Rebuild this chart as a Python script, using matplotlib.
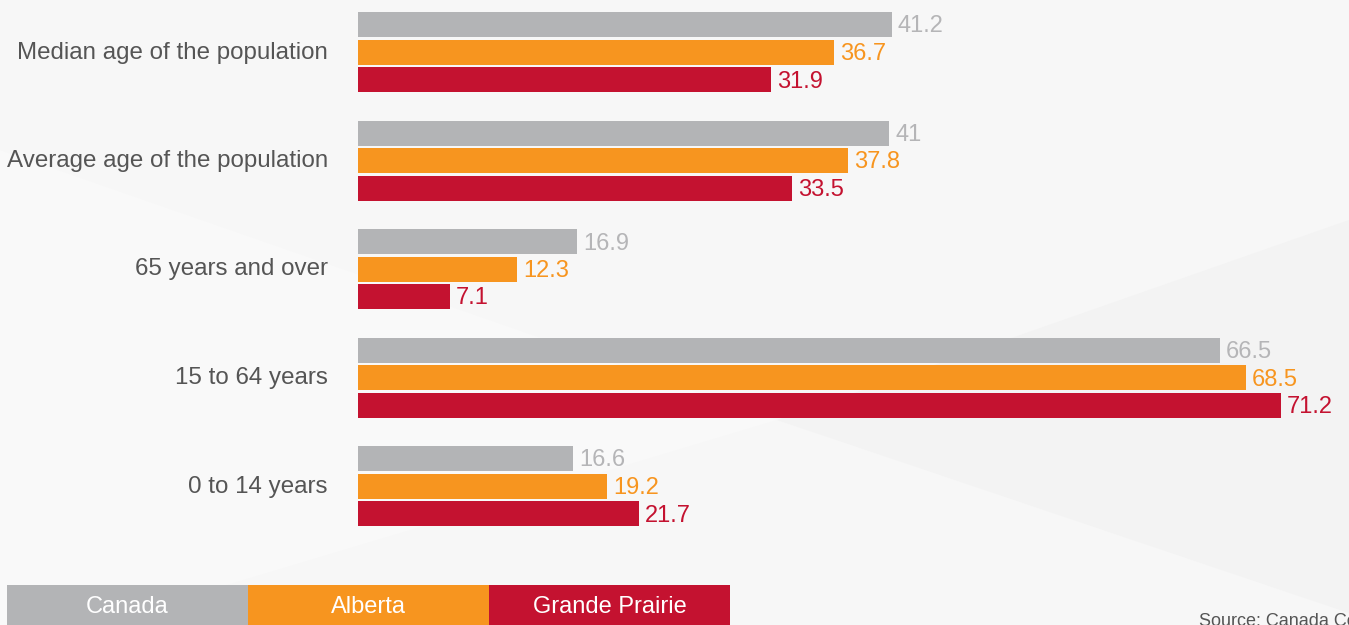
import matplotlib
matplotlib.use("Agg")
import matplotlib.pyplot as plt
from matplotlib.patches import Polygon, Rectangle

plt.rcParams["font.family"] = ["Liberation Sans", "DejaVu Sans"]

# data
categories = [
    "Median age of the population",
    "Average age of the population",
    "65 years and over",
    "15 to 64 years",
    "0 to 14 years",
]
series_names = ["Canada", "Alberta", "Grande Prairie"]
canada = [41.2, 41, 16.9, 66.5, 16.6]
alberta = [36.7, 37.8, 12.3, 68.5, 19.2]
grande_prairie = [31.9, 33.5, 7.1, 71.2, 21.7]

bar_colors = ["#b3b4b6", "#f7951f", "#c41230"]
label_colors = ["#b5b5b7", "#f7951f", "#c41230"]

W, H = 1349, 625
PX_PER_UNIT = 12.96   # bar scale in pixels per value
PITCH = 108.5         # distance between groups in pixels
BAR_STEP = 27.5
BAR_H = 25
BAR_LEFT = 358
FIRST_CENTER = 52

fig = plt.figure(figsize=(W / 100, H / 100), dpi=100)
fig.patch.set_facecolor("#f7f7f7")

# background with faint diagonal shapes
bg = fig.add_axes([0, 0, 1, 1])
bg.set_xlim(0, W)
bg.set_ylim(H, 0)
bg.axis("off")
bg.add_patch(Polygon([(0, 150), (777, 420), (0, 653)], closed=True,
                     facecolor="#f9f9f9", edgecolor="none"))
bg.add_patch(Polygon([(777, 420), (W, 220), (W, 613)], closed=True,
                     facecolor="#f3f3f3", edgecolor="none"))

# bars
ax = fig.add_axes([BAR_LEFT / W, 0, 1 - BAR_LEFT / W, 1])
ax.set_xlim(0, (W - BAR_LEFT) / PX_PER_UNIT)
ax.set_ylim((H - FIRST_CENTER) / PITCH, -FIRST_CENTER / PITCH)
ax.axis("off")
ax.patch.set_alpha(0)

series = [canada, alberta, grande_prairie]
gap = 6 / PX_PER_UNIT
for j, vals in enumerate(series):
    ys = [i + (j - 1) * BAR_STEP / PITCH for i in range(len(categories))]
    ax.barh(ys, vals, height=BAR_H / PITCH, color=bar_colors[j])
    for y, v in zip(ys, vals):
        ax.text(v + gap, y + 2 / PITCH, f"{v:g}", ha="left", va="center",
                fontsize=17, color=label_colors[j], clip_on=False)

for i, cat in enumerate(categories):
    ax.text(-30 / PX_PER_UNIT, i + 0.5 / PITCH, cat, ha="right", va="center",
            fontsize=17.4, color="#555555", clip_on=False)

# legend boxes along the bottom
box_w = 241
for k, name in enumerate(series_names):
    x0 = 7 + box_w * k
    bg.add_patch(Rectangle((x0, 585), box_w, 45, facecolor=bar_colors[k],
                           edgecolor="none"))
    bg.text(x0 + box_w / 2, 607, name, ha="center", va="center",
            fontsize=17, color="white")

# source note runs off the right edge, as in the reference
bg.text(1199, 622, "Source: Canada Census", ha="left", va="center",
        fontsize=13, color="#555555")

fig.savefig("out.png", dpi=100, facecolor=fig.get_facecolor())
